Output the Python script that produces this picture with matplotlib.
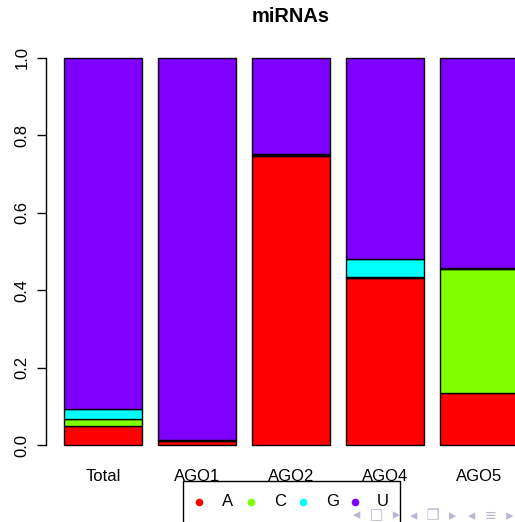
import matplotlib
matplotlib.use("Agg")
from matplotlib import pyplot as plt
from matplotlib.patches import Rectangle
from matplotlib.lines import Line2D

plt.rcParams['font.family'] = ['Liberation Sans', 'DejaVu Sans']

groups = ["Total", "AGO1", "AGO2", "AGO4", "AGO5"]
bases = ["A", "C", "G", "U"]
colors = ["#FF0000", "#80FF00", "#00FFFF", "#8000FF"]

frac_A = [0.049, 0.011, 0.748, 0.432, 0.135]
frac_C = [0.018, 0.002, 0.001, 0.001, 0.320]
frac_G = [0.026, 0.001, 0.004, 0.047, 0.002]
frac_U = [0.907, 0.986, 0.247, 0.520, 0.543]
fractions = [frac_A, frac_C, frac_G, frac_U]

W, H = 515, 522
fig = plt.figure(figsize=(W / 100, H / 100), dpi=100)

# plot region in pixels (R style, 4% padding)
left_px, bottom_px, top_px = 45.8, 460.5, 42.5
ax = fig.add_axes([left_px / W, (H - bottom_px) / H,
                   1 - left_px / W, (bottom_px - top_px) / H])

xpos = [0.7 + 1.2 * i for i in range(len(groups))]
bottom = [0.0] * len(groups)
for vals, col in zip(fractions, colors):
    ax.bar(xpos, vals, width=1.0, bottom=bottom, color=col,
           edgecolor="black", linewidth=1.0)
    bottom = [b + v for b, v in zip(bottom, vals)]

ax.set_xlim(-0.032, -0.032 + (W - left_px) / 78.3)
ax.set_ylim(-0.04, 1.04)

for s in ["top", "right", "bottom"]:
    ax.spines[s].set_visible(False)
ax.spines["left"].set_bounds(0, 1)
ax.spines["left"].set_linewidth(1.0)

ax.set_yticks([0.0, 0.2, 0.4, 0.6, 0.8, 1.0])
ax.set_yticklabels(["0.0", "0.2", "0.4", "0.6", "0.8", "1.0"],
                   rotation=90, va="center", fontsize=12)
ax.tick_params(axis="y", length=6.5, width=1.0, pad=5)
ax.set_xticks(xpos)
ax.set_xticklabels(groups, fontsize=12)
ax.tick_params(axis="x", length=0, pad=6)

fig.text(291 / W, 1 - 16 / H, "miRNAs", ha="center", va="center",
         fontsize=14.4, fontweight="bold")

# legend box (runs off the bottom of the slide)
fig.patches.append(Rectangle((183 / W, -0.05), (400 - 183) / W,
                             (H - 481) / H + 0.05, transform=fig.transFigure,
                             facecolor="white", edgecolor="black",
                             linewidth=1.0, zorder=5))
pt_x = [199, 251, 303, 355]
lab_x = [228, 280, 333, 383]
for b, col, px, lx in zip(bases, colors, pt_x, lab_x):
    fig.add_artist(Line2D([px / W], [1 - 501.5 / H], marker="o",
                          markersize=4.5, color=col, linestyle="none",
                          transform=fig.transFigure, zorder=6))
    fig.text(lx / W, 1 - 501.5 / H, b, ha="center", va="center",
             fontsize=12, zorder=6)

# beamer navigation symbols
nav_col = "#b8b8d4"
for cx, sym in [(377, "\u25c2  \u25a1  \u25b8"), (433, "\u25c2  \u2750  \u25b8"),
                (491, "\u25c2  \u2261  \u25b8")]:
    fig.text(cx / W, 1 - 515 / H, sym, ha="center", va="center",
             fontsize=10.5, color=nav_col, zorder=10,
             family=["DejaVu Sans", "Noto Sans"])

fig.savefig("out.png", dpi=100)
